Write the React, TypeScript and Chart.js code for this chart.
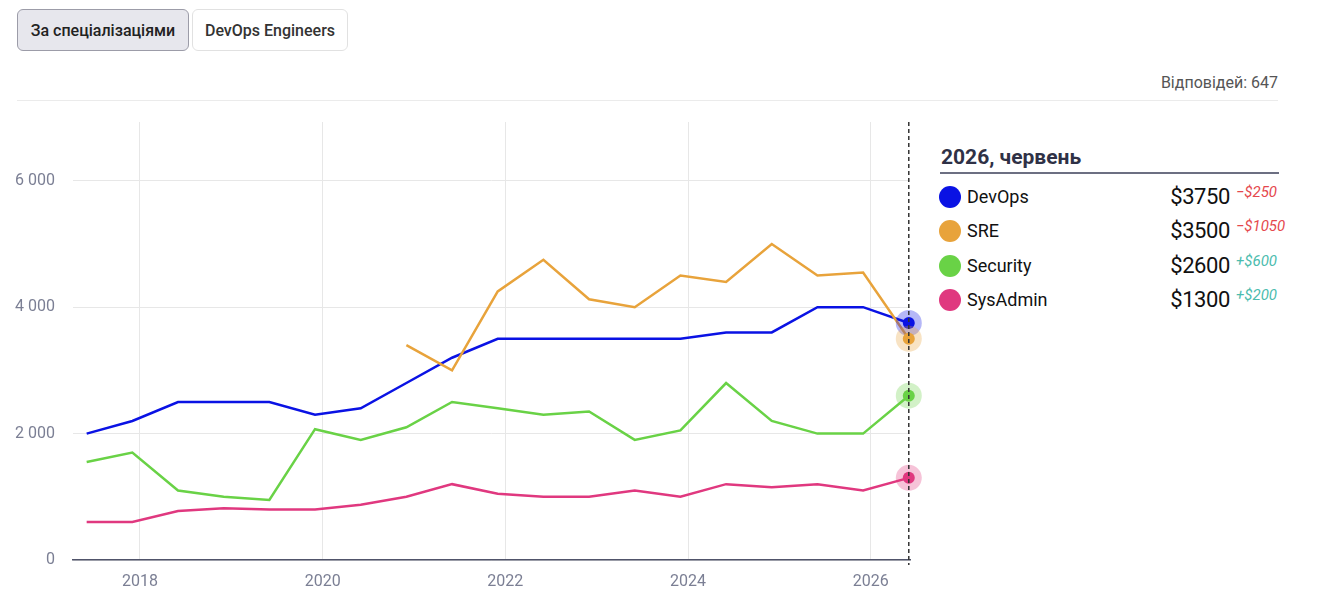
import { useEffect, useRef } from "react"
import { Chart, registerables } from "chart.js"

Chart.register(...registerables)

// survey periods (June / December waves)
const periods = [
  "2017-06", "2017-12", "2018-06", "2018-12", "2019-06", "2019-12",
  "2020-06", "2020-12", "2021-06", "2021-12", "2022-06", "2022-12",
  "2023-06", "2023-12", "2024-06", "2024-12", "2025-06", "2025-12", "2026-06",
]

const devops = [2000, 2200, 2500, 2500, 2500, 2300, 2400, 2800, 3200, 3500, 3500, 3500, 3500, 3500, 3600, 3600, 4000, 4000, 3750]
const sre = [null, null, null, null, null, null, null, 3400, 3000, 4250, 4750, 4125, 4000, 4500, 4400, 5000, 4500, 4550, 3500]
const security = [1550, 1700, 1100, 1000, 950, 2070, 1900, 2100, 2500, 2400, 2300, 2350, 1900, 2050, 2800, 2200, 2000, 2000, 2600]
const sysadmin = [600, 600, 775, 820, 800, 800, 875, 1000, 1200, 1050, 1000, 1000, 1100, 1000, 1200, 1150, 1200, 1100, 1300]

const seriesNames = ["DevOps", "SRE", "Security", "SysAdmin"]
const seriesColors = ["#0a12e4", "#e8a33b", "#69d246", "#e0387f"]
const seriesValues = [devops, sre, security, sysadmin]

const yTicks = [0, 2000, 4000, 6000]
const xTicks = [2018, 2020, 2022, 2024, 2026]

const currentLabel = "2026, червень"
const answers = "Відповідей: 647"

const FONT = "Roboto, 'Noto Sans', sans-serif"

function periodToX(p: string) {
  const [y, m] = p.split("-").map(Number)
  return y + (m - 1) / 12
}

function fmtThousands(v: number) {
  return String(v).replace(/\B(?=(\d{3})+(?!\d))/g, " ")
}

function hexAlpha(hex: string, a: number) {
  const n = parseInt(hex.slice(1), 16)
  return `rgba(${(n >> 16) & 255}, ${(n >> 8) & 255}, ${n & 255}, ${a})`
}

const highlightPlugin = {
  id: "highlight",
  afterDatasetsDraw(chart: any) {
    const ctx = chart.ctx
    const area = chart.chartArea
    let lastX = 0
    ctx.save()
    chart.data.datasets.forEach((ds: any, i: number) => {
      const meta = chart.getDatasetMeta(i)
      const pt = meta.data[meta.data.length - 1]
      if (!pt) return
      lastX = pt.x
      ctx.beginPath()
      ctx.fillStyle = hexAlpha(seriesColors[i], 0.3)
      ctx.arc(pt.x, pt.y, 13, 0, Math.PI * 2)
      ctx.fill()
      ctx.beginPath()
      ctx.fillStyle = seriesColors[i]
      ctx.arc(pt.x, pt.y, 6, 0, Math.PI * 2)
      ctx.fill()
    })
    // dashed crosshair on the current period
    ctx.beginPath()
    ctx.setLineDash([4, 3])
    ctx.lineWidth = 1.5
    ctx.strokeStyle = "#333"
    ctx.moveTo(lastX, area.top)
    ctx.lineTo(lastX, area.bottom + 5)
    ctx.stroke()
    ctx.restore()
  },
}

function SalaryChart() {
  const canvasRef = useRef<HTMLCanvasElement>(null)
  const chartRef = useRef<Chart | null>(null)

  useEffect(() => {
    if (!canvasRef.current) return
    if (chartRef.current) chartRef.current.destroy()
    const ctx = canvasRef.current.getContext("2d")
    if (!ctx) return

    Chart.defaults.font.family = FONT

    chartRef.current = new Chart(ctx, {
      type: "line",
      data: {
        datasets: seriesNames.map((name, i) => ({
          label: name,
          data: periods
            .map((p, j) => ({ x: periodToX(p), y: seriesValues[i][j] }))
            .filter((d) => d.y !== null),
          borderColor: seriesColors[i],
          backgroundColor: seriesColors[i],
          borderWidth: 2.5,
          pointRadius: 0,
          tension: 0,
          order: i === 1 ? 0 : i + 1,
        })),
      },
      options: {
        animation: false,
        responsive: true,
        maintainAspectRatio: false,
        layout: { padding: { top: 122, right: 20, left: 0, bottom: 0 } },
        plugins: {
          legend: { display: false },
          tooltip: { enabled: false },
        },
        scales: {
          x: {
            type: "linear",
            min: 2017.267,
            max: 2026.43,
            afterFit: (s: any) => {
              s.height = 51
            },
            afterBuildTicks: (s: any) => {
              s.ticks = xTicks.map((v) => ({ value: v }))
            },
            ticks: {
              callback: (v: any) => String(v),
              color: "#7b7f94",
              font: { size: 16 },
              padding: 12,
              maxRotation: 0,
            },
            grid: { color: "#e7e7e7", drawTicks: false },
            border: { color: "#50546a", width: 1.5 },
          },
          y: {
            min: 0,
            max: 6930,
            afterFit: (s: any) => {
              s.width = 73
            },
            afterBuildTicks: (s: any) => {
              s.ticks = yTicks.map((v) => ({ value: v }))
            },
            ticks: {
              callback: (v: any) => fmtThousands(Number(v)),
              color: "#7b7f94",
              font: { size: 16 },
              padding: 18,
            },
            grid: { color: "#e7e7e7", drawTicks: false },
            border: { display: false },
          },
        },
      },
      plugins: [highlightPlugin],
    })

    return () => {
      if (chartRef.current) {
        chartRef.current.destroy()
        chartRef.current = null
      }
    }
  }, [])

  return (
    <div style={{ position: "absolute", left: 0, top: 0, width: 930, height: 611 }}>
      <canvas ref={canvasRef}></canvas>
    </div>
  )
}

export default function App() {
  const rowTop = 197
  const rowStep = 34.4
  return (
    <div
      style={{
        position: "absolute",
        left: 0,
        top: 0,
        width: 1338,
        height: 611,
        background: "#fff",
        fontFamily: FONT,
        overflow: "hidden",
      }}
    >
      <SalaryChart />

      <div
        style={{
          position: "absolute",
          left: 17,
          top: 9,
          width: 172,
          height: 42,
          boxSizing: "border-box",
          border: "1px solid #9c9ca8",
          background: "#e7e7ed",
          borderRadius: 6,
          display: "flex",
          alignItems: "center",
          justifyContent: "center",
          fontSize: 16,
          fontWeight: 500,
          color: "#222",
        }}
      >
        За спеціалізаціями
      </div>
      <div
        style={{
          position: "absolute",
          left: 192,
          top: 9,
          width: 156,
          height: 42,
          boxSizing: "border-box",
          border: "1px solid #e1e1e1",
          background: "#fff",
          borderRadius: 6,
          display: "flex",
          alignItems: "center",
          justifyContent: "center",
          fontSize: 16,
          fontWeight: 500,
          color: "#333",
        }}
      >
        DevOps Engineers
      </div>

      <div
        style={{
          position: "absolute",
          right: 1338 - 1278,
          top: 73,
          fontSize: 16,
          lineHeight: "20px",
          color: "#555",
        }}
      >
        {answers}
      </div>
      <div style={{ position: "absolute", left: 17, top: 100, width: 1261, height: 1, background: "#ebebeb" }} />

      <div
        style={{
          position: "absolute",
          left: 941,
          top: 145,
          fontSize: 21,
          lineHeight: "24px",
          fontWeight: 700,
          color: "#2f3146",
        }}
      >
        {currentLabel}
      </div>
      <div style={{ position: "absolute", left: 940, top: 172, width: 339, height: 2, background: "#6c6f82" }} />

      {seriesNames.map((name, i) => {
        const vals = seriesValues[i]
        const last = vals[vals.length - 1] as number
        const prev = vals[vals.length - 2] as number
        const delta = last - prev
        const cy = rowTop + i * rowStep
        return (
          <div key={name}>
            <div
              style={{
                position: "absolute",
                left: 939,
                top: cy - 11,
                width: 22,
                height: 22,
                borderRadius: "50%",
                background: seriesColors[i],
              }}
            />
            <div
              style={{
                position: "absolute",
                left: 967,
                top: cy - 11,
                fontSize: 18,
                lineHeight: "22px",
                color: "#111",
              }}
            >
              {name}
            </div>
            <div
              style={{
                position: "absolute",
                right: 1338 - 1230,
                top: cy - 13,
                fontSize: 22,
                lineHeight: "26px",
                color: "#111",
                letterSpacing: -0.4,
              }}
            >
              ${last}
            </div>
            <div
              style={{
                position: "absolute",
                left: 1236,
                top: cy - 14,
                fontSize: 15,
                lineHeight: "18px",
                fontStyle: "italic",
                color: delta < 0 ? "#e5484d" : "#4bbcae",
              }}
            >
              {delta < 0 ? "−" : "+"}${Math.abs(delta)}
            </div>
          </div>
        )
      })}
    </div>
  )
}
